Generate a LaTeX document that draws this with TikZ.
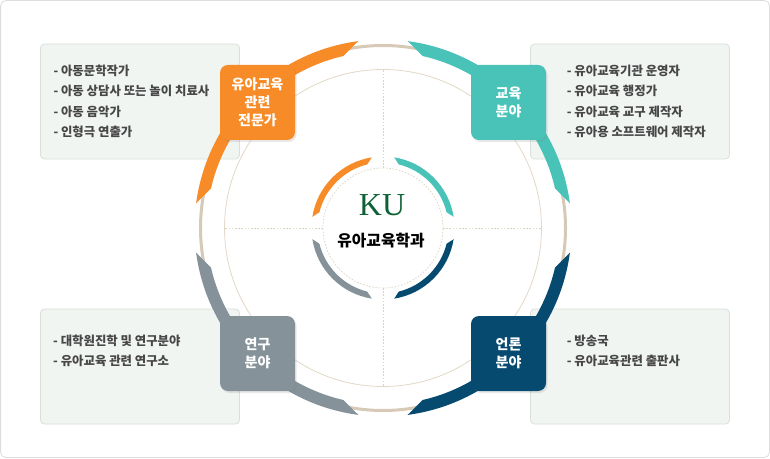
\documentclass[tikz,border=0pt]{standalone}
\usepackage{fontspec}
\newfontfamily\krfont{Noto Sans CJK KR}
\newfontfamily\kuserif{Liberation Serif}
\usetikzlibrary{shadows}
\definecolor{cOrange}{HTML}{F68B28}
\definecolor{cTeal}{HTML}{49C3B8}
\definecolor{cGrey}{HTML}{85929A}
\definecolor{cNavy}{HTML}{064A70}
\definecolor{cPanel}{HTML}{F1F5F2}
\definecolor{cPanelLine}{HTML}{DADFDA}
\definecolor{cBeige}{HTML}{D6CAB6}
\definecolor{cBeigeLight}{HTML}{E3D8C8}
\definecolor{cDot}{HTML}{DDD3C4}
\definecolor{cText}{HTML}{474747}
\definecolor{cGreen}{HTML}{0E6135}
\definecolor{cFrame}{HTML}{DDDDDD}
\begin{document}
\begin{tikzpicture}[x=1pt,y=1pt,
  panel/.style={fill=cPanel,draw=cPanelLine,line width=0.8pt,rounded corners=4pt},
  item/.style={anchor=base west,inner sep=0pt,text=cText,font=\krfont\bfseries\fontsize{12.4}{14}\selectfont},
  fieldbox/.style={minimum width=75pt,minimum height=75pt,rounded corners=8pt,inner sep=0pt,align=center,text=white,
    font=\krfont\bfseries\fontsize{14}{18}\selectfont,
    drop shadow={opacity=0.18,shadow xshift=1.5pt,shadow yshift=-2pt}},
  dotline/.style={cDot,line width=0.7pt,dash pattern=on 1.6pt off 1.6pt}
]
\useasboundingbox (0,0) rectangle (770,458);
\path[draw=cFrame,fill=white,rounded corners=5pt,line width=0.8pt] (0.6,0.6) rectangle (769.4,457.4);
% panels
\path[panel] (40.5,299) rectangle (239.5,414);
\path[panel] (530.5,299) rectangle (729.5,414);
\path[panel] (40.5,34) rectangle (239.5,149);
\path[panel] (530.5,34) rectangle (729.5,149);
% circles and arcs
\coordinate (C) at (383,230);
\begin{scope}[shift={(C)}]
  \draw[cBeigeLight,line width=0.8pt] (0,0) circle[radius=158.5];
  \draw[cBeige,line width=3pt] (0,0) circle[radius=182.5];
  \draw[dotline] (0,0) circle[radius=60];
  \foreach \a in {0,90,180,270} \draw[dotline] (\a:60) -- (\a:158.5);
  \foreach \q/\col in {90/cOrange,0/cTeal,180/cGrey,270/cNavy}{
    \pgfmathsetmacro\aa{\q+7.5}\pgfmathsetmacro\ab{\q+82.5}
    \pgfmathsetmacro\ac{\q+77}\pgfmathsetmacro\ad{\q+13}
    \fill[\col] (\aa:188.5) arc[start angle=\aa,end angle=\ab,radius=188.5]
      -- (\ac:176.5) arc[start angle=\ac,end angle=\ad,radius=176.5] -- cycle;
    \pgfmathsetmacro\ba{\q+9}\pgfmathsetmacro\bb{\q+81}
    \pgfmathsetmacro\bc{\q+76}\pgfmathsetmacro\bd{\q+14}
    \fill[\col] (\ba:71.5) arc[start angle=\ba,end angle=\bb,radius=71.5]
      -- (\bc:65.5) arc[start angle=\bc,end angle=\bd,radius=65.5] -- cycle;
  }
\end{scope}
% field boxes
\node[fieldbox,fill=cOrange] (bOrange) at (257.5,355.5) {유아교육\\관련\\전문가};
\node[fieldbox,fill=cTeal] (bTeal) at (508.5,355.5) {교육\\분야};
\node[fieldbox,fill=cGrey] (bGrey) at (257.5,104.5) {연구\\분야};
\node[fieldbox,fill=cNavy] (bNavy) at (508.5,104.5) {언론\\분야};
% center
\node[inner sep=0pt,font=\kuserif\fontsize{32}{32}\selectfont,text=cGreen] (ku) at (382,253) {KU};
\node[inner sep=0pt,font=\krfont\bfseries\fontsize{15.8}{16}\selectfont,text=black] (dept) at (381,217.5) {유아교육학과};
% panel texts
\node[item] (tl1) at (53.3,382.5) {- 아동문학작가};
\node[item] (tl2) at (53.3,362.2) {- 아동 상담사 또는 놀이 치료사};
\node[item] (tl3) at (53.3,341.9) {- 아동 음악가};
\node[item] (tl4) at (53.3,321.6) {- 인형극 연출가};
\node[item] (tr1) at (566.7,382.5) {- 유아교육기관 운영자};
\node[item] (tr2) at (566.7,362.2) {- 유아교육 행정가};
\node[item] (tr3) at (566.7,341.9) {- 유아교육 교구 제작자};
\node[item] (tr4) at (566.7,321.6) {- 유아용 소프트웨어 제작자};
\node[item] (bl1) at (53,112.2) {- 대학원진학 및 연구분야};
\node[item] (bl2) at (53,92.7) {- 유아교육 관련 연구소};
\node[item] (br1) at (566.7,112.2) {- 방송국};
\node[item] (br2) at (566.7,92.7) {- 유아교육관련 출판사};
\end{tikzpicture}
\end{document}
